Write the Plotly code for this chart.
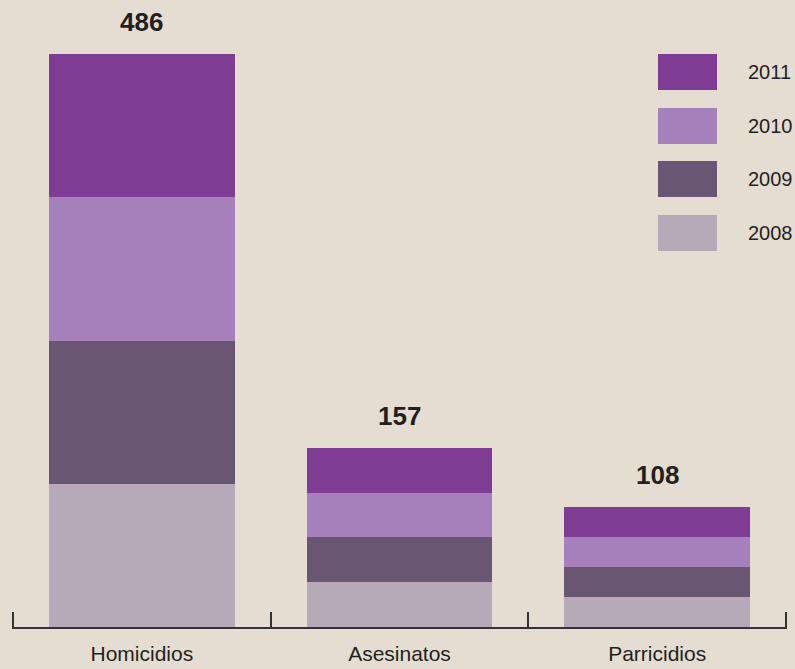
import plotly.graph_objects as go

# ---- data ----
categories = ["Homicidios", "Asesinatos", "Parricidios"]
years = ["2008", "2009", "2010", "2011"]
v2008 = [121.5, 38.0, 25.5]
v2009 = [121.5, 38.0, 25.5]
v2010 = [121.5, 38.0, 25.5]
v2011 = [121.5, 38.0, 25.5]
totals = [486, 157, 108]

colors = {"2008": "#B6AAB8", "2009": "#695673", "2010": "#A680BB", "2011": "#7E3C94"}
series = {"2008": v2008, "2009": v2009, "2010": v2010, "2011": v2011}

BG = "#E5DDD1"
FONT = "Liberation Sans, Arial, sans-serif"
TXT = "#231F20"
AXC = "#333333"

W, H = 795, 669
ML, MR, MT, MB = 12, 8, 0, 42

fig = go.Figure()
for y in years:
    fig.add_trace(go.Bar(x=categories, y=series[y], name=y,
                         marker=dict(color=colors[y], line=dict(width=0)),
                         showlegend=False))

stack_tops = [a + b + c + d for a, b, c, d in zip(v2008, v2009, v2010, v2011)]
for cat, top, tot in zip(categories, stack_tops, totals):
    fig.add_annotation(x=cat, y=top, text=f"<b>{tot}</b>", showarrow=False,
                       yanchor="middle", yshift=32,
                       font=dict(family=FONT, size=26, color=TXT))

plot_w = W - ML - MR
plot_h = H - MT - MB
def px_x(p):
    return (p - ML) / plot_w
def px_y(p):
    return (H - MB - p) / plot_h

# outer boundary ticks (plotly draws only the inner category boundaries)
for xb in (-0.5, len(categories) - 0.5):
    fig.add_shape(type="line", xref="x", yref="paper", x0=xb, x1=xb,
                  y0=0, y1=15 / plot_h, line=dict(color=AXC, width=2))

# custom legend (2011 on top)
legend_order = ["2011", "2010", "2009", "2008"]
row_tops = [54, 108, 161, 215]
for yname, top in zip(legend_order, row_tops):
    fig.add_shape(type="rect", xref="paper", yref="paper",
                  x0=px_x(658), x1=px_x(717), y0=px_y(top + 36), y1=px_y(top),
                  fillcolor=colors[yname], line=dict(width=0))
    fig.add_annotation(xref="paper", yref="paper", x=px_x(746), y=px_y(top + 18),
                       text=yname, showarrow=False, xanchor="left", yanchor="middle",
                       font=dict(family=FONT, size=20, color=TXT))

fig.update_layout(
    width=W, height=H,
    margin=dict(l=ML, r=MR, t=MT, b=MB, pad=0),
    paper_bgcolor=BG, plot_bgcolor=BG,
    barmode="stack", bargap=0.279,
    xaxis=dict(showline=True, linecolor=AXC, linewidth=2,
               ticks="inside", ticklen=15, tickwidth=2, tickcolor=AXC,
               tickson="boundaries", showgrid=False, zeroline=False,
               ticklabelstandoff=7,
               tickfont=dict(family=FONT, size=21, color=TXT)),
    yaxis=dict(visible=False, range=[0, 627 / (573 / 486)], fixedrange=True),
)

fig.write_html("out.html", config={"displayModeBar": False},
               post_script="document.body.style.margin='0';document.body.style.background='" + BG + "';")
